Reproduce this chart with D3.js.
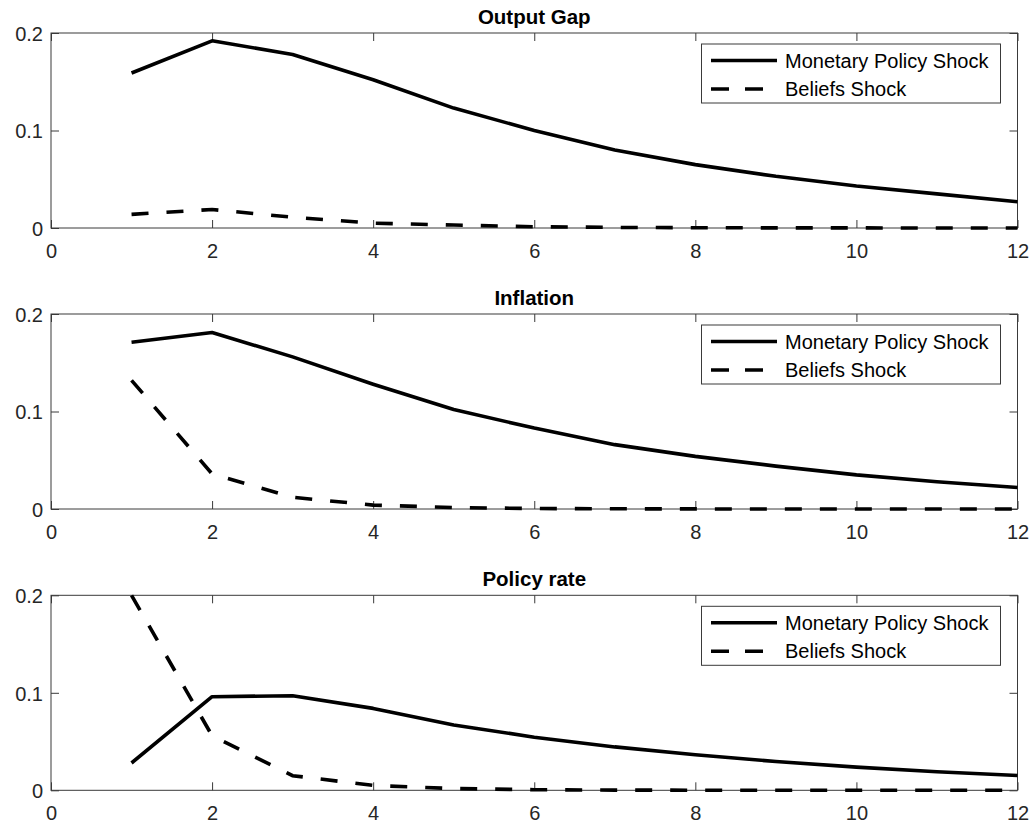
<!DOCTYPE html>
<html>
<head>
<meta charset="utf-8">
<script src="https://cdn.jsdelivr.net/npm/d3@7"></script>
<style>
  html, body { margin: 0; padding: 0; background: #fff; }
  svg { display: block; font-family: "Liberation Sans", Arial, Helvetica, sans-serif; }
</style>
</head>
<body>
<svg id="chart" width="1034" height="827"></svg>
<script>
// Horizon (quarters) and axis ticks
const periods = [1, 2, 3, 4, 5, 6, 7, 8, 9, 10, 11, 12];
const xTicks = [0, 2, 4, 6, 8, 10, 12];
const xTickLabels = ["0", "2", "4", "6", "8", "10", "12"];
const yTicks = [0, 0.1, 0.2];
const yTickLabels = ["0", "0.1", "0.2"];

const panelTitles = ["Output Gap", "Inflation", "Policy rate"];
const seriesNames = ["Monetary Policy Shock", "Beliefs Shock"];

// Impulse responses
const outputGapMonetary = [0.159, 0.192, 0.178, 0.152, 0.123, 0.100, 0.080, 0.065, 0.053, 0.043, 0.035, 0.027];
const outputGapBeliefs  = [0.014, 0.019, 0.011, 0.005, 0.003, 0.0013, 0.0006, 0.0003, 0.0001, 0.0001, 0, 0];
const inflationMonetary = [0.171, 0.181, 0.156, 0.128, 0.102, 0.083, 0.066, 0.054, 0.044, 0.035, 0.028, 0.022];
const inflationBeliefs  = [0.132, 0.036, 0.012, 0.004, 0.0015, 0.0005, 0.0002, 0.0001, 0, 0, 0, 0];
const policyMonetary    = [0.028, 0.096, 0.097, 0.084, 0.067, 0.0545, 0.0445, 0.0365, 0.0295, 0.0238, 0.019, 0.0152];
const policyBeliefs     = [0.2, 0.056, 0.015, 0.005, 0.0018, 0.0006, 0.0002, 0.0001, 0, 0, 0, 0];

const panels = [
  { title: panelTitles[0], solid: outputGapMonetary, dashed: outputGapBeliefs },
  { title: panelTitles[1], solid: inflationMonetary, dashed: inflationBeliefs },
  { title: panelTitles[2], solid: policyMonetary, dashed: policyBeliefs }
];

const svg = d3.select("#chart");
const left = 51, right = 1017.5, panelH = 195;
const panelTops = [33, 314, 595.3];
const axisColor = "#3a3a3a";
const textColor = "#262626";
const fontSize = 20;
const titleSize = 20.5;

const x = d3.scaleLinear().domain([0, 12]).range([left, right]);

panels.forEach((p, i) => {
  const top = panelTops[i];
  const bottom = top + panelH;
  const y = d3.scaleLinear().domain([0, 0.2]).range([bottom, top]);
  const g = svg.append("g");

  // Bottom axis with labels, ticks pointing inward
  const bx = g.append("g").attr("transform", `translate(0,${bottom})`)
    .call(d3.axisBottom(x).tickValues(xTicks).tickSize(-8).tickPadding(0)
      .tickFormat((d, k) => xTickLabels[k]));
  bx.select(".domain").remove();
  bx.selectAll(".tick line").attr("stroke", axisColor);
  bx.selectAll(".tick text").attr("fill", textColor).attr("font-size", fontSize)
    .attr("y", 30).attr("dy", 0);

  // Top axis, ticks only
  const tx = g.append("g").attr("transform", `translate(0,${top})`)
    .call(d3.axisTop(x).tickValues(xTicks).tickSize(-8).tickFormat(""));
  tx.select(".domain").remove();
  tx.selectAll(".tick line").attr("stroke", axisColor);

  // Left axis with labels
  const ly = g.append("g").attr("transform", `translate(${left},0)`)
    .call(d3.axisLeft(y).tickValues(yTicks).tickSize(-8).tickPadding(0)
      .tickFormat((d, k) => yTickLabels[k]));
  ly.select(".domain").remove();
  ly.selectAll(".tick line").attr("stroke", axisColor);
  ly.selectAll(".tick text").attr("fill", textColor).attr("font-size", fontSize)
    .attr("x", -8).attr("dy", "0.36em");

  // Right axis, ticks only
  const ry = g.append("g").attr("transform", `translate(${right},0)`)
    .call(d3.axisRight(y).tickValues(yTicks).tickSize(-8).tickFormat(""));
  ry.select(".domain").remove();
  ry.selectAll(".tick line").attr("stroke", axisColor);

  // Axes box
  g.append("rect")
    .attr("x", left).attr("y", top)
    .attr("width", right - left).attr("height", panelH)
    .attr("fill", "none").attr("stroke", axisColor).attr("stroke-width", 1);

  // Title
  g.append("text")
    .attr("x", (left + right) / 2).attr("y", top - 9)
    .attr("text-anchor", "middle").attr("font-weight", "bold")
    .attr("font-size", titleSize).attr("fill", "#000")
    .text(p.title);

  const line = d3.line().x((d, k) => x(periods[k])).y(d => y(d));

  g.append("path").datum(p.solid)
    .attr("d", line).attr("fill", "none")
    .attr("stroke", "#000").attr("stroke-width", 3.6)
    .attr("stroke-linejoin", "round");

  g.append("path").datum(p.dashed)
    .attr("d", line).attr("fill", "none")
    .attr("stroke", "#000").attr("stroke-width", 3.6)
    .attr("stroke-dasharray", "17 18");

  // Legend
  const lg = g.append("g").attr("transform", `translate(701.5,${top + 11})`);
  lg.append("rect").attr("x", 0).attr("y", 0).attr("width", 299).attr("height", 59)
    .attr("fill", "#fff").attr("stroke", axisColor).attr("stroke-width", 1);
  const rows = [
    { name: seriesNames[0], dash: null, yy: 16.5 },
    { name: seriesNames[1], dash: "18 16", yy: 45 }
  ];
  rows.forEach(r => {
    lg.append("line").attr("x1", 9.5).attr("x2", 75.5).attr("y1", r.yy).attr("y2", r.yy)
      .attr("stroke", "#000").attr("stroke-width", 3.6)
      .attr("stroke-dasharray", r.dash);
    lg.append("text").attr("x", 83.5).attr("y", r.yy).attr("dy", "0.36em")
      .attr("font-size", fontSize).attr("fill", "#000").text(r.name);
  });
});
</script>
</body>
</html>
